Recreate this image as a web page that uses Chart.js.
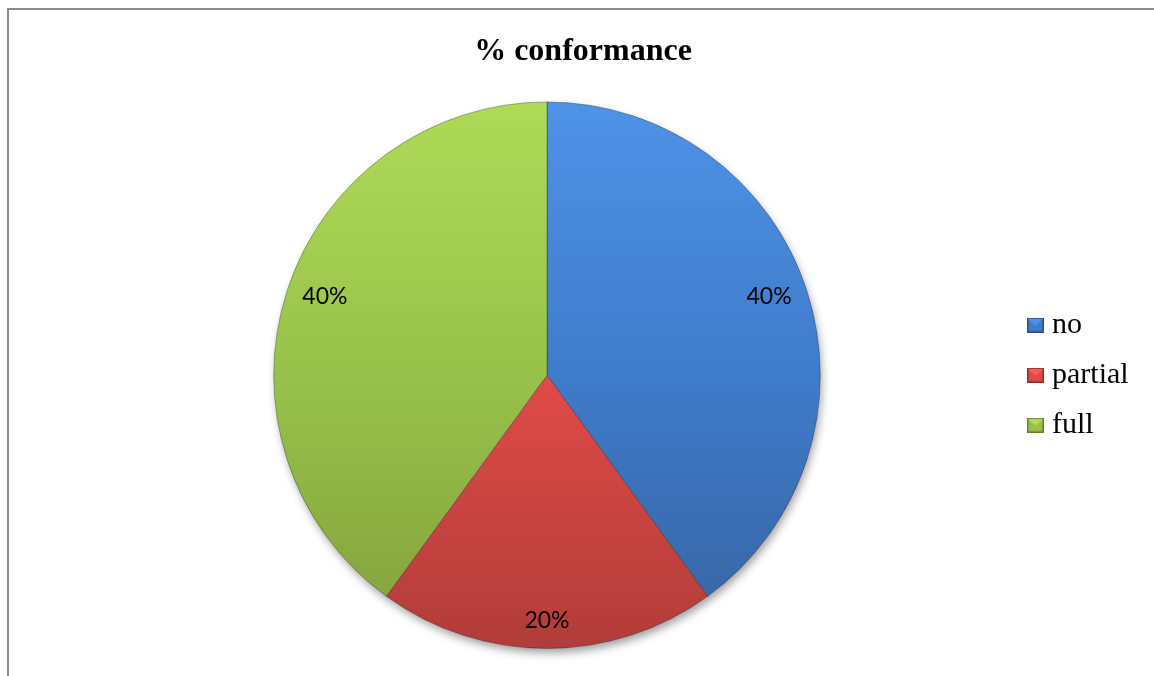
<!DOCTYPE html>
<html>
<head>
<meta charset="utf-8">
<script src="https://cdn.jsdelivr.net/npm/chart.js@4.4.1/dist/chart.umd.min.js"></script>
<style>
    html, body { margin: 0; padding: 0; background: #fff; overflow: hidden; }
    #frame { position: absolute; left: 7px; top: 8px; width: 1200px; height: 720px;
             border-top: 2px solid #8a8a8a; border-left: 2px solid #8a8a8a; }
    #wrap { position: absolute; left: 9px; top: 10px; width: 1148px; height: 666px; }
</style>
</head>
<body>
<div id="frame"></div>
<div id="wrap"><canvas id="conformanceChart"></canvas></div>
<script>
var categories = ['no', 'partial', 'full'];
var values = [40, 20, 40];

// top / middle / bottom shades of each slice (vertical gradient)
var topColors = ['#4e93e6', '#f0605b', '#afda58'];
var midColors = ['#3f7bcb', '#e04b47', '#97c24a'];
var bottomColors = ['#36639f', '#b13c39', '#849f3c'];
var edgeColors = ['#2c4f80', '#8c2f2d', '#667c2e'];

var serif = "'Times New Roman', 'Liberation Serif', serif";

function makeIcon(i) {
    var c = document.createElement('canvas');
    c.width = 17;
    c.height = 15;
    var g = c.getContext('2d');
    g.fillStyle = bottomColors[i];
    g.fillRect(0, 0, 17, 15);
    g.fillStyle = midColors[i];
    g.fillRect(2, 2, 13, 11);
    g.fillStyle = topColors[i];
    g.beginPath();
    g.moveTo(1, 1);
    g.lineTo(16, 1);
    g.lineTo(8.5, 8);
    g.closePath();
    g.fill();
    g.strokeStyle = edgeColors[i];
    g.lineWidth = 1;
    g.strokeRect(0.5, 0.5, 16, 14);
    return c;
}
var legendIcons = categories.map(function(c, i) { return makeIcon(i); });

function sliceFill(context) {
    var chart = context.chart;
    var area = chart.chartArea;
    if (!area) return midColors[context.dataIndex];
    var cy = (area.top + area.bottom) / 2;
    var r = Math.min(area.right - area.left, area.bottom - area.top) / 2;
    var grad = chart.ctx.createLinearGradient(0, cy - r, 0, cy + r);
    var i = context.dataIndex;
    grad.addColorStop(0, topColors[i]);
    grad.addColorStop(0.5, midColors[i]);
    grad.addColorStop(1, bottomColors[i]);
    return grad;
}

// soft shadow under the pie
var pieShadow = {
    id: 'pieShadow',
    beforeDatasetsDraw: function(chart) {
        var arc = chart.getDatasetMeta(0).data[0];
        if (!arc) return;
        var p = arc.getProps(['x', 'y', 'outerRadius'], true);
        var ctx = chart.ctx;
        ctx.save();
        ctx.shadowColor = 'rgba(0, 0, 0, 0.4)';
        ctx.shadowBlur = 10;
        ctx.shadowOffsetX = 2;
        ctx.shadowOffsetY = 5;
        ctx.fillStyle = '#ffffff';
        ctx.beginPath();
        ctx.arc(p.x, p.y, p.outerRadius - 1, 0, Math.PI * 2);
        ctx.fill();
        ctx.restore();
    }
};

// legend is given a narrow layout width (so the title stays centred on the frame);
// let its text run past that box instead of being clipped
var legendOverflow = {
    id: 'legendOverflow',
    afterLayout: function(chart) {
        if (chart.legend) chart.legend.right = chart.width;
    }
};

// percentage labels near the outer edge of each slice
var sliceLabels = {
    id: 'sliceLabels',
    afterDatasetsDraw: function(chart) {
        var ctx = chart.ctx;
        var meta = chart.getDatasetMeta(0);
        var data = chart.data.datasets[0].data;
        var total = data.reduce(function(a, b) { return a + b; }, 0);
        ctx.save();
        ctx.font = "23px Lato, 'Open Sans', sans-serif";
        ctx.fillStyle = '#000';
        ctx.textAlign = 'center';
        ctx.textBaseline = 'middle';
        meta.data.forEach(function(arc, i) {
            var p = arc.getProps(['x', 'y', 'startAngle', 'endAngle', 'outerRadius'], true);
            var mid = (p.startAngle + p.endAngle) / 2;
            var text = Math.round(data[i] / total * 100) + '%';
            var hx = ctx.measureText(text).width / 2;
            var hy = 14;
            var cos = Math.cos(mid), sin = Math.sin(mid);
            var d = p.outerRadius - 14 - (hx * Math.abs(cos) + hy * Math.abs(sin));
            // side labels sit a little higher than the slice bisector
            var lift = Math.abs(cos) > 0.5 ? 6 : 0;
            ctx.fillText(text, p.x + d * cos, p.y + d * sin - lift);
        });
        ctx.restore();
    }
};

var ctx = document.getElementById('conformanceChart').getContext('2d');
var conformanceChart = new Chart(ctx, {
    type: 'pie',
    data: {
        labels: categories,
        datasets: [{
            data: values,
            backgroundColor: sliceFill,
            borderColor: 'rgba(0, 0, 0, 0.28)',
            borderWidth: 1
        }]
    },
    options: {
        responsive: true,
        maintainAspectRatio: false,
        animation: false,
        layout: {
            padding: { left: 71, right: 71, top: 0, bottom: 27 }
        },
        plugins: {
            title: {
                display: true,
                text: '% conformance',
                color: '#000',
                font: { family: serif, size: 32, weight: 'bold' },
                padding: { top: 23, bottom: 30 }
            },
            legend: {
                position: 'right',
                fullSize: false,
                maxWidth: 72,
                labels: {
                    color: '#000',
                    font: { family: serif, size: 30 },
                    usePointStyle: true,
                    boxWidth: 3,
                    padding: 20,
                    generateLabels: function(chart) {
                        var items = Chart.overrides.doughnut.plugins.legend.labels.generateLabels(chart);
                        items.forEach(function(item, i) {
                            item.pointStyle = legendIcons[i];
                        });
                        return items;
                    }
                }
            },
            tooltip: { enabled: false }
        }
    },
    plugins: [pieShadow, sliceLabels, legendOverflow]
});
</script>
</body>
</html>
